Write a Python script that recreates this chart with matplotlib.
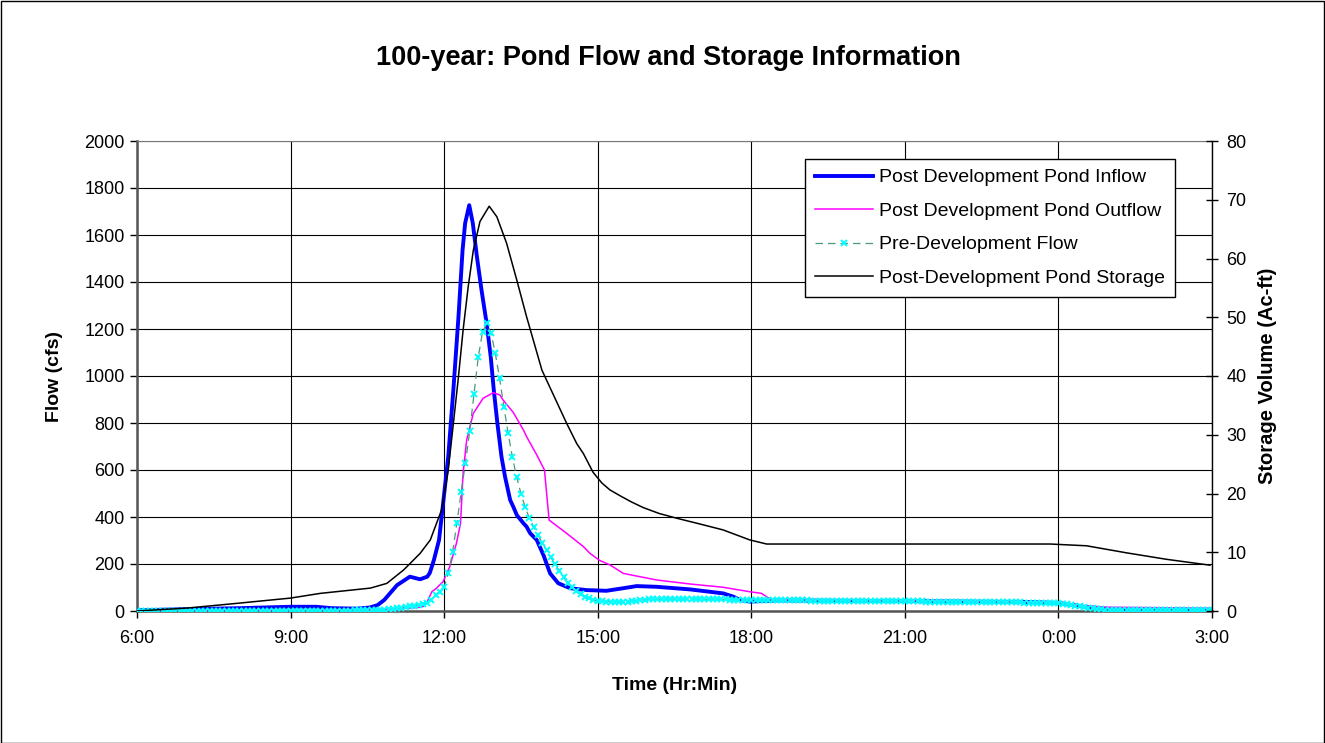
import matplotlib
matplotlib.use("Agg")
import matplotlib.pyplot as plt
import numpy as np
from matplotlib.patches import Rectangle

plt.rcParams['font.family'] = ['Liberation Sans', 'DejaVu Sans']

# ---- data (time in hours after 6:00) ----
tick_hours = [0, 3, 6, 9, 12, 15, 18, 21]
tick_labels = ['6:00', '9:00', '12:00', '15:00', '18:00', '21:00', '0:00', '3:00']

inflow_t = [0, 1.0, 2.0, 3.0, 3.5, 3.8, 4.3, 4.55, 4.7, 4.83, 5.08, 5.33, 5.53, 5.67,
            5.72, 5.8, 5.9, 5.98, 6.08, 6.18, 6.28, 6.36, 6.41, 6.49, 6.56, 6.64, 6.73,
            6.83, 6.91, 6.97, 7.04, 7.12, 7.19, 7.29, 7.35, 7.42, 7.55, 7.61, 7.68, 7.81,
            7.94, 8.07, 8.23, 8.46, 8.78, 9.17, 9.5, 9.76, 10.15, 10.8, 11.45, 11.65,
            11.78, 11.97, 12.5, 15.0, 17.5, 18.0, 18.5, 19.0, 19.5, 21.0]
inflow_v = [3, 8, 12, 18, 18, 12, 10, 15, 25, 47, 110, 146, 135, 146,
            162, 217, 302, 458, 657, 940, 1252, 1536, 1650, 1727, 1650, 1508, 1366,
            1224, 1082, 940, 799, 657, 571, 472, 444, 408, 373, 359, 331, 302,
            238, 160, 118, 97, 89, 86, 97, 106, 103, 92, 75, 61,
            47, 40, 45, 42, 38, 34, 18, 6, 3, 2]

outflow_t = [0, 3.0, 5.0, 5.5, 5.6, 5.67, 5.76, 5.85, 5.98, 6.11, 6.24, 6.32, 6.37,
             6.44, 6.57, 6.76, 6.96, 7.09, 7.15, 7.35, 7.55, 7.61, 7.81, 7.96, 8.05,
             8.39, 8.72, 8.85, 9.04, 9.24, 9.5, 10.15, 10.8, 11.45, 11.97, 12.2, 12.37,
             15.0, 18.0, 18.5, 19.0, 21.0]
outflow_v = [0, 3, 8, 15, 20, 40, 82, 97, 125, 189, 288, 373, 586,
             728, 841, 905, 929, 919, 898, 845, 770, 742, 664, 600, 387,
             331, 274, 245, 215, 196, 160, 132, 115, 101, 82, 75, 50,
             45, 38, 22, 16, 12]

# pre-development flow, one value every 5 minutes from 6:00 to 3:00
predev_v = [0, 0, 0, 0, 0, 0, 1, 1, 1, 1, 1, 1,
            1, 1, 1, 1, 1, 1, 1, 1, 2, 2, 2, 2,
            2, 2, 2, 2, 2, 2, 2, 2, 2, 2, 2, 2,
            2, 2, 2, 2, 2, 2, 2, 2, 2, 2, 2, 2,
            2, 2, 2, 3, 3, 3, 3, 3, 4, 5, 6, 8,
            10, 12, 14, 17, 20, 23, 26, 29, 33, 47, 68, 82,
            103, 160, 252, 376, 508, 631, 767, 923, 1080, 1188, 1224, 1182,
            1096, 990, 869, 756, 655, 570, 500, 441, 394, 359, 323, 291,
            260, 228, 200, 171, 143, 118, 101, 86, 72, 61, 54, 47,
            44, 42, 40, 39, 38, 38, 39, 40, 42, 44, 46, 48,
            49, 50, 50, 51, 51, 51, 51, 51, 51, 50, 50, 50,
            50, 50, 50, 50, 49, 49, 49, 48, 48, 48, 47, 47,
            47, 46, 46, 46, 46, 46, 45, 45, 45, 45, 45, 45,
            45, 45, 44, 44, 44, 44, 44, 44, 44, 43, 43, 43,
            43, 43, 43, 43, 42, 42, 42, 42, 42, 42, 42, 41,
            41, 41, 41, 41, 41, 40, 40, 40, 40, 40, 40, 40,
            39, 39, 39, 39, 39, 39, 38, 38, 38, 38, 38, 38,
            37, 37, 37, 37, 36, 36, 36, 36, 35, 35, 35, 34,
            33, 31, 29, 26, 23, 20, 17, 14, 11, 9, 7, 5,
            4, 4, 3, 3, 3, 3, 3, 3, 3, 3, 3, 3,
            3, 3, 3, 3, 3, 3, 3, 3, 3, 3, 3, 3, 3]
predev_step_min = 5

storage_t = [0, 0.98, 1.95, 3.0, 3.58, 4.56, 4.88, 5.21, 5.53, 5.73, 5.79, 5.95, 6.08,
             6.18, 6.28, 6.37, 6.47, 6.57, 6.7, 6.88, 7.03, 7.22, 7.42, 7.61, 7.91,
             8.15, 8.39, 8.59, 8.72, 8.91, 9.08, 9.24, 9.44, 9.65, 9.89, 10.2, 10.54,
             11.0, 11.45, 11.97, 12.3, 13.15, 17.84, 18.55, 19.33, 20.11, 20.96]
storage_v = [0, 0.5, 1.3, 2.2, 3.0, 3.9, 4.7, 7.0, 9.8, 12.1, 13.5, 17.2, 24,
             31.9, 39.9, 47.8, 55.2, 61.4, 66.3, 68.9, 67.1, 62.6, 56.3, 50.1, 41,
             36.5, 32, 28.5, 26.8, 23.6, 21.8, 20.6, 19.6, 18.6, 17.6, 16.6, 15.8,
             14.8, 13.8, 12.1, 11.4, 11.4, 11.4, 11.1, 9.9, 8.8, 7.8]

# ---- figure ----
W, H = 1325, 743
fig = plt.figure(figsize=(W / 100, H / 100), dpi=100)
L, R, T, B = 137, 1212, 141, 611
ax = fig.add_axes([L / W, 1 - B / H, (R - L) / W, (B - T) / H])
ax2 = ax.twinx()

predev_t = np.arange(len(predev_v)) * predev_step_min / 60.0

h_in, = ax.plot(inflow_t, inflow_v, color='#0000FF', lw=2.8, solid_joinstyle='round',
                label='Post Development Pond Inflow', zorder=3)
h_out, = ax.plot(outflow_t, outflow_v, color='#FF00FF', lw=1.1,
                 label='Post Development Pond Outflow', zorder=4)
h_pre, = ax.plot(predev_t, predev_v, color='#4a9a7a', lw=0.9, ls=(0, (6, 4)),
                 marker='x', ms=5, mew=1.4, mec='#00FFFF', mfc='#00FFFF',
                 label='Pre-Development Flow', zorder=5)
h_st, = ax2.plot(storage_t, storage_v, color='black', lw=1.1,
                 label='Post-Development Pond Storage', zorder=3)

ax.set_xlim(0, 21)
ax.set_ylim(0, 2000)
ax2.set_ylim(0, 80)
ax.set_xticks(tick_hours)
ax.set_xticklabels(tick_labels)
ax.set_yticks(np.arange(0, 2001, 200))
ax2.set_yticks(np.arange(0, 81, 10))

ax.grid(True, color='black', lw=0.8)
ax.set_axisbelow(True)

for a in (ax, ax2):
    a.tick_params(labelsize=13, colors='black')
ax.tick_params(axis='y', direction='out', length=5, width=1, pad=4)
ax.tick_params(axis='x', direction='out', length=5, width=1, pad=9)
ax2.tick_params(axis='y', direction='inout', length=9, width=1, pad=6)

for sp in ('left', 'bottom'):
    ax.spines[sp].set_color('#555555')
    ax.spines[sp].set_linewidth(1.8)
ax.spines['top'].set_color('#777777')
ax.spines['right'].set_visible(False)
ax2.spines['right'].set_color('black')
ax2.spines['right'].set_linewidth(1.0)
for sp in ('left', 'bottom', 'top'):
    ax2.spines[sp].set_visible(False)

ax.set_xlabel('Time (Hr:Min)', fontsize=14, fontweight='bold', labelpad=21)
ax.set_ylabel('Flow (cfs)', fontsize=14, fontweight='bold', labelpad=15)
ax2.set_ylabel('Storage Volume (Ac-ft)', fontsize=14.5, fontweight='bold', labelpad=8)

fig.text(668 / W, 1 - 58 / H, '100-year: Pond Flow and Storage Information',
         ha='center', va='center', fontsize=19.5, fontweight='bold')

leg = ax2.legend(handles=[h_in, h_out, h_pre, h_st], loc='upper right',
                 bbox_to_anchor=((1175 - L) / (R - L), (B - 159) / (B - T)),
                 borderaxespad=0, fontsize=14, frameon=True, fancybox=False,
                 framealpha=1, edgecolor='black', handlelength=3.0,
                 handletextpad=0.3, labelspacing=0.82, borderpad=0.5)
leg.get_frame().set_linewidth(1.0)
leg.set_zorder(10)

fig.patches.append(Rectangle((0.5 / W, 0.5 / H), 1 - 1.5 / W, 1 - 1.5 / H,
                             transform=fig.transFigure, fill=False,
                             edgecolor='black', lw=1.0))

fig.savefig('out.png', dpi=100)
